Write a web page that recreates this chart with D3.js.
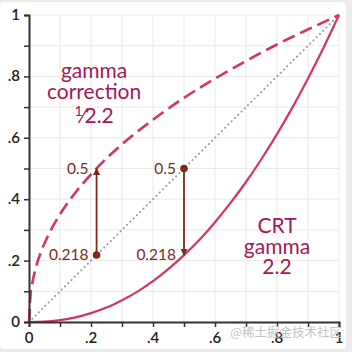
<!DOCTYPE html>
<html>
<head>
<meta charset="utf-8">
<script src="https://cdn.jsdelivr.net/npm/d3@7"></script>
<style>
  body { margin: 0; background: #ececec; }
  svg { display: block; font-family: Lato, "Open Sans", sans-serif; }
</style>
</head>
<body>
<div id="chart"></div>
<script>
// values
const gridTicks = [0, 0.1, 0.2, 0.3, 0.4, 0.5, 0.6, 0.7, 0.8, 0.9, 1];
const labelTicks = [0, 0.2, 0.4, 0.6, 0.8, 1];
const tickLabels = ["0", ".2", ".4", ".6", ".8", "1"];

const correctionX = [0, 0.005, 0.01, 0.02, 0.04, 0.06, 0.08, 0.1, 0.15, 0.2, 0.25, 0.3, 0.4, 0.5, 0.6, 0.7, 0.8, 0.9, 1];
const correctionY = [0, 0.090, 0.123, 0.169, 0.232, 0.278, 0.317, 0.351, 0.422, 0.481, 0.533, 0.579, 0.659, 0.730, 0.793, 0.850, 0.904, 0.953, 1];

const crtX = [0, 0.05, 0.1, 0.15, 0.2, 0.25, 0.3, 0.35, 0.4, 0.45, 0.5, 0.55, 0.6, 0.65, 0.7, 0.75, 0.8, 0.85, 0.9, 0.95, 1];
const crtY = [0, 0.001, 0.006, 0.015, 0.029, 0.047, 0.071, 0.099, 0.133, 0.173, 0.218, 0.268, 0.325, 0.388, 0.456, 0.531, 0.612, 0.699, 0.793, 0.893, 1];

const identity = [0, 1];

// arrows: dot at `from`, head at `to`
const arrows = [
  { x: 0.218, from: 0.218, to: 0.5 },
  { x: 0.5, from: 0.5, to: 0.218 }
];
const pointLabels = [
  { x: 0.218, y: 0.5, text: "0.5" },
  { x: 0.218, y: 0.218, text: "0.218" },
  { x: 0.5, y: 0.5, text: "0.5" },
  { x: 0.5, y: 0.218, text: "0.218" }
];
const correctionLabel = ["gamma", "correction"];
const crtLabel = ["CRT", "gamma", "2.2"];

const W = 352, H = 352;
const dims = { left: 29, right: 13, top: 15, bottom: 30 };

const svg = d3.select("#chart").append("svg")
  .attr("width", W).attr("height", H);

svg.append("rect")
  .attr("x", 0).attr("y", 2).attr("width", 346).attr("height", 347)
  .attr("rx", 4).attr("fill", "#fff");

const x = d3.scaleLinear().domain([0, 1]).range([dims.left, W - dims.right]);
const y = d3.scaleLinear().domain([0, 1]).range([H - dims.bottom, dims.top]);

// grid
const grid = svg.append("g").attr("stroke", "#e9e9e9").attr("stroke-width", 1);
grid.selectAll(".gx").data(gridTicks.slice(1)).join("line")
  .attr("x1", d => x(d)).attr("x2", d => x(d))
  .attr("y1", y(0)).attr("y2", y(1));
grid.selectAll(".gy").data(gridTicks.slice(1)).join("line")
  .attr("x1", x(0)).attr("x2", x(1))
  .attr("y1", d => y(d)).attr("y2", d => y(d));

// diagonal
svg.append("line")
  .attr("x1", x(identity[0])).attr("y1", y(identity[0]))
  .attr("x2", x(identity[1])).attr("y2", y(identity[1]))
  .attr("stroke", "#999").attr("stroke-width", 2)
  .attr("stroke-dasharray", "0.1 4.5").attr("stroke-linecap", "round");

const line = d3.line().x(d => x(d[0])).y(d => y(d[1])).curve(d3.curveMonotoneX);
const pink = "#d4336a";

svg.append("path")
  .datum(d3.zip(correctionX, correctionY))
  .attr("d", line)
  .attr("fill", "none").attr("stroke", pink).attr("stroke-width", 2.6)
  .attr("stroke-dasharray", "13 6");

svg.append("path")
  .datum(d3.zip(crtX, crtY))
  .attr("d", line)
  .attr("fill", "none").attr("stroke", pink).attr("stroke-width", 2.2);

// axes
const xAxis = svg.append("g")
  .attr("transform", `translate(0,${y(0)})`)
  .call(d3.axisBottom(x).tickValues(gridTicks).tickSize(5).tickFormat(""));
const yAxis = svg.append("g")
  .attr("transform", `translate(${x(0)},0)`)
  .call(d3.axisLeft(y).tickValues(gridTicks).tickSize(5).tickFormat(""));
[xAxis, yAxis].forEach(a => {
  a.select(".domain").attr("stroke", "#333").attr("stroke-width", 2);
  a.selectAll(".tick line").attr("stroke", "#333").attr("stroke-width", 1.5);
});

svg.append("g").selectAll("text").data(labelTicks).join("text")
  .attr("x", d => x(d)).attr("y", y(0) + 21)
  .attr("text-anchor", "middle")
  .attr("font-size", 15).attr("font-weight", 600).attr("fill", "#222")
  .text((d, i) => tickLabels[i]);
svg.append("g").selectAll("text").data(labelTicks).join("text")
  .attr("x", x(0) - 9).attr("y", d => y(d) + 5)
  .attr("text-anchor", "end")
  .attr("font-size", 15).attr("font-weight", 600).attr("fill", "#222")
  .text((d, i) => tickLabels[i]);

// arrows
const brown = "#7b2a1c";
svg.append("defs").append("marker")
  .attr("id", "head").attr("viewBox", "0 0 10 10")
  .attr("refX", 9).attr("refY", 5)
  .attr("markerWidth", 4).attr("markerHeight", 5)
  .attr("orient", "auto-start-reverse")
  .append("path").attr("d", "M0,0L10,5L0,10Z").attr("fill", brown);

arrows.forEach(a => {
  svg.append("line")
    .attr("x1", x(a.x)).attr("x2", x(a.x))
    .attr("y1", y(a.from)).attr("y2", y(a.to))
    .attr("stroke", brown).attr("stroke-width", 1.8)
    .attr("marker-end", "url(#head)");
  svg.append("circle")
    .attr("cx", x(a.x)).attr("cy", y(a.from)).attr("r", 3.8)
    .attr("fill", brown);
});

svg.append("g").selectAll("text").data(pointLabels).join("text")
  .attr("x", d => x(d.x) - 8).attr("y", d => y(d.y) + 5)
  .attr("text-anchor", "end")
  .attr("font-size", 15.5).attr("fill", brown)
  .text(d => d.text);

// curve labels
const magenta = "#a3175a";
const t1 = svg.append("text")
  .attr("text-anchor", "middle").attr("font-size", 21).attr("fill", magenta);
correctionLabel.forEach((s, i) => {
  t1.append("tspan").attr("x", x(0.21)).attr("y", 78 + i * 21).text(s);
});
const frac = svg.append("text")
  .attr("x", x(0.21)).attr("y", 123)
  .attr("text-anchor", "middle").attr("font-size", 21).attr("fill", magenta);
frac.append("tspan").attr("font-size", 14).attr("dy", -7).text("1");
frac.append("tspan").attr("dy", 7).attr("dx", -1).text("\u20442.2");

const t2 = svg.append("text")
  .attr("text-anchor", "middle").attr("font-size", 21).attr("fill", magenta);
crtLabel.forEach((s, i) => {
  t2.append("tspan").attr("x", x(0.8)).attr("y", 233 + i * 20.5).text(s);
});

// watermark
svg.append("text")
  .attr("x", 342).attr("y", 337)
  .attr("text-anchor", "end").attr("font-size", 12.5)
  .attr("fill", "#c4c4c4")
  .attr("font-family", "Noto Sans CJK SC, sans-serif")
  .text("@稀土掘金技术社区");
</script>
</body>
</html>
